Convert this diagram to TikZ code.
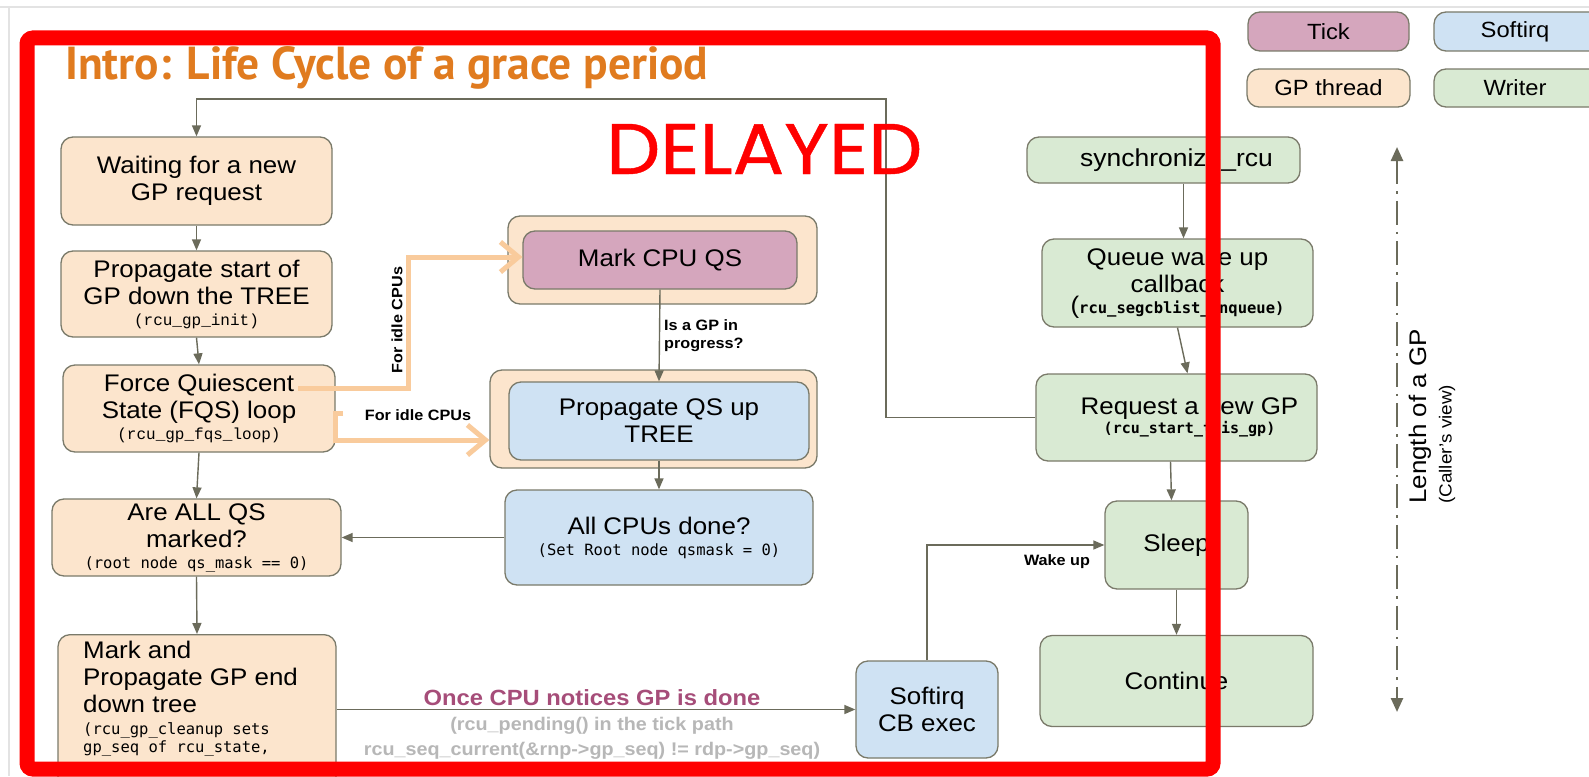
\documentclass[tikz,border=0pt]{standalone}
\usepackage{fontspec}
\usepackage{graphicx}
\setmainfont[FakeStretch=1.08]{Liberation Sans}
\newfontfamily\dvmono{DejaVu Sans Mono}
\newfontfamily\lbmono{Liberation Mono}
\newfontfamily\ptsans{PT Sans}
\newfontfamily\popfont[FakeBold=0.6]{Poppins}
\usetikzlibrary{arrows.meta,calc}
\definecolor{peach}{HTML}{FCE5CD}
\definecolor{pinkf}{HTML}{D5A6BD}
\definecolor{bluef}{HTML}{CFE2F3}
\definecolor{greenf}{HTML}{D9EAD3}
\definecolor{edgec}{HTML}{7A7A6A}
\definecolor{connc}{HTML}{6B6B5B}
\definecolor{orangec}{HTML}{F9CB9C}
\definecolor{titlec}{HTML}{E07B1F}
\definecolor{purplec}{HTML}{A64D79}
\definecolor{lgray}{HTML}{B7B7B7}
\definecolor{framec}{HTML}{E3E3E3}
\newcommand\boxfont{\fontsize{24}{27}\selectfont}
\newcommand\codeA{\lbmono\fontsize{16}{18}\selectfont}
\newcommand\codeB{\dvmono\fontsize{15.5}{18}\selectfont}
\newcommand\codeC{\dvmono\bfseries\fontsize{15.5}{18}\selectfont}
\tikzset{
  box/.style={draw=edgec, line width=1.3pt, rounded corners=12pt, inner sep=0pt, align=center, font=\boxfont, text=black},
  gpbox/.style={box, fill=peach},
  tickbox/.style={box, fill=pinkf},
  sirqbox/.style={box, fill=bluef},
  wbox/.style={box, fill=greenf},
  conn/.style={draw=connc, line width=1.4pt, -{Triangle[length=11pt,width=9pt]}},
  orarrow/.style={draw=orangec, line width=5pt, -{Straight Barb[length=18pt,width=30pt]}},
  lbl/.style={font=\bfseries\fontsize{15}{18}\selectfont, text=black, inner sep=0pt},
  legfont/.style={font=\fontsize{22}{26}\selectfont},
  graylbl/.style={anchor=base, text=lgray, font=\bfseries\fontsize{18.3}{20}\selectfont, inner sep=0pt},
}
\begin{document}
\begin{tikzpicture}[x=1pt,y=-1pt]
\useasboundingbox (0,0) rectangle (1589,776);
\clip (0,0) rectangle (1589,776);
\fill[white] (0,0) rectangle (1589,776);
\draw[framec, line width=2pt] (0,7) -- (1589,7);
\draw[framec, line width=2pt] (9,7) -- (9,776);

% title
\node[anchor=base west, inner sep=0pt, text=titlec] (title) at (65,80) {\resizebox{643pt}{33pt}{\ptsans\bfseries Intro: Life Cycle of a grace period}};

% legend
\node[tickbox, legfont, minimum width=161pt, minimum height=39pt] (lgtick) at (1328.5,31.5) {Tick};
\node[gpbox, legfont, minimum width=163pt, minimum height=38pt] (lggp) at (1328.5,88) {GP thread};
\node[sirqbox, legfont, minimum width=200pt, minimum height=39pt] (lgsirq) at (1534,31.5) {Softirq\hspace*{38pt}};
\node[wbox, legfont, minimum width=200pt, minimum height=38pt] (lgw) at (1534,88) {Writer\hspace*{38pt}};

% left column
\node[gpbox, minimum width=271pt, minimum height=88pt] (wait) at (196.5,181) {Waiting for a new\\GP request};
\node[gpbox, minimum width=271pt, minimum height=86pt] (prop) at (196.5,294) {Propagate start of\\GP down the TREE\\[-6pt]{\codeA (rcu\_gp\_init)}};
\node[gpbox, minimum width=272pt, minimum height=87pt] (fqs) at (199,408.5) {Force Quiescent\\State (FQS) loop\\[-6pt]{\codeA (rcu\_gp\_fqs\_loop)}};
\node[gpbox, minimum width=289pt, minimum height=77pt] (areall) at (196.5,537.5) {Are ALL QS\\marked?\\[-6pt]{\codeB (root node qs\_mask == 0)}};
\node[gpbox, minimum width=278pt, minimum height=170pt, anchor=north] (markend) at (197,634) {};
\node[anchor=north west, align=left, font=\boxfont, inner sep=0pt] (markendtxt) at (83,641) {Mark and\\Propagate GP end\\down tree\\[-5pt]{\codeB (rcu\_gp\_cleanup sets}\\[-9pt]{\codeB gp\_seq of rcu\_state,}};

% middle column
\node[gpbox, minimum width=309pt, minimum height=88pt] (mqso) at (662.5,260) {};
\node[tickbox, minimum width=274pt, minimum height=58pt] (mqs) at (660,260) {Mark CPU QS};
\node[gpbox, minimum width=327pt, minimum height=98pt] (pqso) at (653.5,419) {};
\node[sirqbox, minimum width=300pt, minimum height=78pt] (pqs) at (659,421) {Propagate QS up\\TREE};
\node[sirqbox, minimum width=308pt, minimum height=95pt] (alldone) at (659,537.5) {All CPUs done?\\[-6pt]{\codeB (Set Root node qsmask = 0)}};
\node[sirqbox, minimum width=142pt, minimum height=97pt] (sfq) at (927,709.5) {Softirq\\CB exec};

% right column
\node[wbox, minimum width=273pt, minimum height=46pt] (sync) at (1163.5,160) {\hspace*{26pt}{\fontsize{24.5}{27}\selectfont synchronize\_rcu}};
\node[wbox, minimum width=271pt, minimum height=88pt] (queue) at (1177.5,283) {Queue wake up\\callback\\[-6pt]{(\codeC rcu\_segcblist\_enqueue)}};
\node[wbox, minimum width=281pt, minimum height=87pt] (req) at (1176.5,417.5) {\hspace*{26pt}Request a new GP\\[-8pt]{\hspace*{26pt}\codeC\fontsize{15}{16}\selectfont (rcu\_start\_this\_gp)}};
\node[wbox, minimum width=143pt, minimum height=88pt] (sleep) at (1176.5,545) {Sleep};
\node[wbox, minimum width=273pt, minimum height=91pt] (cont) at (1176.5,681) {Continue};

% length of a GP
\coordinate (lenTop) at (1397,147);
\coordinate (lenBot) at (1397,712);
\draw[connc, line width=2.5pt, dash pattern=on 24pt off 7pt on 2.5pt off 7pt, {Triangle[length=14pt,width=12pt]}-{Triangle[length=14pt,width=12pt]}] (lenTop) -- (lenBot);
\node[rotate=90, anchor=west, font=\fontsize{24}{26}\selectfont, inner sep=0pt] (lenlbl) at (1420,504) {Length of a GP};
\node[rotate=90, anchor=west, font=\fontsize{17.5}{20}\selectfont, inner sep=0pt] (lenlbl2) at (1447,504) {(Caller's view)};

% connectors
\coordinate (loopA) at (886,417.5);
\coordinate (loopB) at (886,99);
\coordinate (loopC) at (196.5,99);
\draw[conn] (req.west) -- (loopA) -- (loopB) -- (loopC) -- (wait.north);
\draw[conn] (wait.south) -- (prop.north);
\draw[conn] (prop.south) -- (fqs.north);
\draw[conn] (fqs.south) -- (areall.north);
\draw[conn] (areall.south) -- (markend.north);
\draw[conn] (alldone.west) -- (areall.east);
\draw[conn] (mqs.south) -- (pqs.north);
\draw[conn] (pqs.south) -- (alldone.north);
\draw[conn] (markend.east |- sfq.west) -- (sfq.west);
\draw[conn] (sfq.north) |- (sleep.west);
\draw[conn] ($(sync.south)+(20,0)$) -- ($(queue.north)+(6,0)$);
\draw[conn] (queue.south) -- ($(req.north)+(11,0)$);
\draw[conn] ($(req.south)+(-6,0)$) -- ($(sleep.north)+(-5,0)$);
\draw[conn] (sleep.south) -- (cont.north);

% orange arrows
\coordinate (o1s) at (298,388);
\coordinate (o1a) at (408,388);
\coordinate (o1b) at (408,257);
\draw[orarrow] (o1s) -- (o1a) -- (o1b) -- (mqs.west |- o1b);
\coordinate (o2s) at (343,413);
\coordinate (o2a) at (335,413);
\coordinate (o2b) at (335,440);
\draw[orarrow] (o2s) -- (o2a) -- (o2b) -- (pqso.west |- o2b);

% labels
\node[lbl, rotate=90] (idle1) at (397,320) {For idle CPUs};
\node[lbl] (idle2) at (418,415) {For idle CPUs};
\node[lbl, align=left, anchor=west] (isgp) at (664,336) {Is a GP in\\progress?};
\node[lbl] (wake) at (1057,562) {Wake up};
\node[anchor=base, text=purplec, font=\bfseries\fontsize{22}{24}\selectfont, inner sep=0pt] (once) at (592,705) {Once CPU notices GP is done};
\node[graylbl] (pend1) at (592,730) {(rcu\_pending() in the tick path};
\node[graylbl] (pend2) at (592,755) {rcu\_seq\_current(\&rnp->gp\_seq) != rdp->gp\_seq)};

% overlay
\node[anchor=base west, inner sep=0pt, text=red] (delayed) at (606,174) {\resizebox{316pt}{50pt}{\popfont DELAYED}};
\draw[red, line width=15pt, rounded corners=6pt] (27,38) rectangle (1213,769);
\end{tikzpicture}
\end{document}
